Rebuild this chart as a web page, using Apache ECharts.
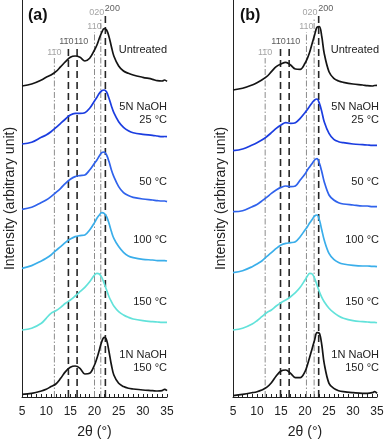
<!DOCTYPE html>
<html>
<head>
<meta charset="utf-8"/>
<title>XRD</title>
<script src="https://cdn.jsdelivr.net/npm/echarts@6/dist/echarts.min.js"></script>
<style>
    html, body { margin: 0; padding: 0; background: #fff; }
    #main { width: 388px; height: 439px; }
</style>
</head>
<body>
<div id="main"></div>
<script>
    // 2θ sample points (degrees)
    var xs = [5, 7, 9, 10, 11, 12, 13, 14, 15, 16, 17, 18, 19, 20, 20.5, 21, 21.5, 22, 22.5, 23, 23.5, 24, 25, 26, 27, 28, 30, 32, 33, 34, 34.5, 35];

    var sampleNames = ['Untreated', '5N NaOH\n25 °C', '50 °C', '100 °C', '150 °C', '1N NaOH\n150 °C'];

    // panel (a) – intensity above each curve's own baseline
    var a1 = [0, 2, 6, 8.7, 11, 14.3, 19.3, 24.3, 28.7, 30, 28.7, 25, 27.7, 36, 41, 47.7, 53.7, 57.3, 56, 49.3, 39.3, 30, 20, 15, 12.7, 11, 8.7, 6.7, 5.3, 5, 6, 4.7];
    var a2 = [0, 1.7, 6.7, 9, 12.3, 16.3, 20.7, 25, 29, 30.7, 30.7, 31.3, 35.7, 43, 46.7, 50.7, 53.3, 54, 52, 45.7, 38, 31.3, 22.3, 16.7, 13.3, 11.3, 9.7, 8.7, 8, 7.3, 7.5, 7.3];
    var a3 = [0, 2, 6.7, 9.3, 12.7, 16.7, 21, 26, 30, 32.7, 33.7, 34.3, 39.3, 46, 49.3, 53.3, 56.7, 57.3, 54.3, 47.7, 39.3, 32.7, 22.7, 16.7, 13.7, 12, 10.3, 9.3, 8.7, 8.3, 8.3, 7.7];
    var a4 = [0, 2.7, 7.3, 10, 13.3, 17.7, 21.7, 26, 29.3, 31.7, 32.7, 33.3, 38.3, 45.7, 50, 53.3, 55.7, 55, 51.7, 45, 36.7, 30, 21.7, 16, 12.3, 10.7, 9, 8.3, 7.7, 7.7, 7.7, 7.3];
    var a5 = [0, 1.7, 6.7, 11.7, 16.7, 19.3, 22.7, 26.7, 30, 34, 38.3, 42.7, 48.3, 55, 56.7, 56, 52.7, 46.7, 40, 33.3, 28.3, 24, 18.3, 15, 12.7, 11, 9.3, 8.3, 8, 7.7, 7.7, 7.7];
    var a6 = [0, 1, 3.3, 5, 7.7, 10.3, 16, 22.7, 27, 28.3, 26, 20.3, 21, 29.3, 36, 44.3, 52.7, 57, 54.3, 42.7, 29.3, 19.3, 11, 7.7, 6, 5.3, 4.3, 3.7, 3.3, 3.7, 5, 3.7];
    var offsetsA = [311, 253, 187.7, 128.7, 67, 2.7];

    // panel (b)
    var b1 = [0, 1.7, 5, 7.3, 10, 13.3, 18.3, 23.3, 26, 27.7, 25, 21, 20.7, 26.7, 31.7, 38.3, 46.7, 55, 62.7, 63.3, 53.3, 36.7, 18.3, 11.7, 9, 7.7, 6, 5, 4.3, 4, 4.5, 4.7];
    var b2 = [0, 1.7, 5.7, 8, 10.7, 14, 18, 22.3, 25.7, 28, 27.3, 28, 32.3, 38, 41.3, 44.7, 48, 50.7, 51.7, 47.3, 39, 29, 17.3, 11.3, 9, 8, 6.7, 6, 5.7, 5.3, 5.3, 5.3];
    var b3 = [0, 1, 5, 7.3, 10.7, 14.3, 18.3, 21.7, 24.3, 25.7, 25, 25.7, 31.7, 37.7, 41.7, 45, 48.3, 51.7, 53, 48.3, 40, 30, 16.7, 11.7, 9, 7.7, 6.7, 5.7, 5.7, 5, 5, 5];
    var b4 = [0, 2, 6, 8.7, 11.7, 16, 20, 24.3, 27.7, 29.3, 30, 31, 36, 42.7, 46, 50, 53.3, 56.7, 57.7, 52.7, 42.7, 32.7, 19.3, 13.3, 10.3, 8.7, 7.3, 6.7, 6.7, 6.3, 6.3, 6];
    var b5 = [0, 1.7, 6, 9.3, 13.3, 17.3, 20, 24, 27.3, 30, 33.3, 37.3, 42.7, 50, 54, 56.7, 56, 51.7, 45, 38.3, 32.7, 28.3, 21.7, 17.3, 14, 11.7, 9.3, 8.3, 8, 7.7, 7.7, 7.3];
    var b6 = [0, 1.3, 3, 4, 5.7, 8.3, 13, 19.7, 24.7, 25.7, 22.3, 18, 18, 24, 30.7, 39, 47.3, 55.7, 63, 62.3, 50.7, 32.3, 12.3, 7.3, 5, 4, 3, 2.3, 2.3, 3, 4, 2.3];
    var offsetsB = [307, 246.3, 185.3, 124.3, 67, 1.3];

    // reflection lines: cellulose II (grey dash-dot) and cellulose I (black dashed)
    var refNames = ['110', '110', '110', '110', '020', '200'];
    var refBar = [true, true, false, false, false, false]; // 1-10: bar over middle digit
    var refCellulose = ['II', 'I', 'I', 'II', 'II', 'I'];
    var refPosA = [11.7, 14.6, 16.4, 20.0, 21.3, 22.25];
    var refPosB = [11.7, 14.9, 16.7, 20.3, 21.9, 22.85];
    var refTop = [339, 350, 350, 365, 379, 383];

    var curveColors = ['#141414', '#1b3de0', '#2f62ec', '#3aaeea', '#62e2da', '#141414'];
    var refLabelDx = [0, -2, 4, 0, -4, 7];
    var sampleLabelY = [50, 113, 182, 240, 302, 361];
    var font = 'Liberation Sans, Arial, Helvetica, sans-serif';

    var chart = echarts.init(document.getElementById('main'), null, {renderer: 'canvas'});

    function refLabel(text, dx, dy, col) {
        return {
            show: true, position: 'top', distance: 0,
            offset: [dx, dy],
            formatter: text,
            fontFamily: font, fontSize: 9, lineHeight: 10,
            color: col
        };
    }

    function buildPanel(idx, curves, offsets, refPos) {
        var out = [];
        refPos.forEach(function (x, i) {
            var grey = refCellulose[i] === 'II';
            var col = grey ? '#8c8c8c' : '#333';
            out.push({
                type: 'line',
                xAxisIndex: idx, yAxisIndex: idx,
                data: [[x, 0], [x, refTop[i]]],
                symbol: 'none', silent: true, z: 1,
                lineStyle: grey
                    ? {color: '#8c8c8c', width: 1, type: [6, 2, 1.5, 2]}
                    : {color: '#262626', width: 1.6, type: [7, 4]}
            });
            out.push({
                type: 'scatter',
                xAxisIndex: idx, yAxisIndex: idx,
                data: [[x, refTop[i]]],
                symbolSize: 1, silent: true,
                itemStyle: {color: 'rgba(0,0,0,0)'},
                label: refLabel(refNames[i], refLabelDx[i], 0, col)
            });
            if (refBar[i]) {
                out.push({
                    type: 'scatter',
                    xAxisIndex: idx, yAxisIndex: idx,
                    data: [[x, refTop[i]]],
                    symbolSize: 1, silent: true,
                    itemStyle: {color: 'rgba(0,0,0,0)'},
                    label: refLabel('¯', refLabelDx[i], 1, col)
                });
            }
        });
        curves.forEach(function (vals, c) {
            out.push({
                type: 'line',
                xAxisIndex: idx, yAxisIndex: idx,
                data: xs.map(function (x, i) { return [x, offsets[c] + vals[i]]; }),
                symbol: 'none', smooth: 0.35, z: 3,
                lineStyle: {color: curveColors[c], width: 1.7}
            });
        });
        return out;
    }

    function xAxisCfg(idx) {
        return {
            type: 'value', gridIndex: idx, min: 5, max: 35, interval: 5,
            name: '2θ (°)', nameLocation: 'middle', nameGap: 28,
            nameTextStyle: {fontFamily: font, fontSize: 14, color: '#222'},
            axisLine: {lineStyle: {color: '#222', width: 1}},
            axisTick: {inside: true, length: 3, lineStyle: {color: '#222'}},
            minorTick: {show: true, splitNumber: 5, length: 3, lineStyle: {color: '#222'}},
            axisLabel: {fontFamily: font, fontSize: 12, color: '#222', margin: 9},
            splitLine: {show: false}
        };
    }

    function yAxisCfg(idx) {
        return {
            type: 'value', gridIndex: idx, min: 0, max: 397,
            name: 'Intensity (arbitrary unit)', nameLocation: 'middle', nameGap: 5,
            nameTextStyle: {fontFamily: font, fontSize: 14, color: '#222'},
            axisLine: {show: true, lineStyle: {color: '#222', width: 1}},
            axisTick: {show: false},
            axisLabel: {show: false},
            splitLine: {show: false}
        };
    }

    var graphics = [];
    [[167, 0], [379, 1]].forEach(function (p) {
        sampleNames.forEach(function (name, i) {
            graphics.push({
                type: 'text', x: p[0], y: sampleLabelY[i],
                style: {
                    text: name, font: '11px ' + font, fill: '#222',
                    align: 'right', verticalAlign: 'middle', lineHeight: 13,
                    textAlign: 'right', textVerticalAlign: 'middle'
                }
            });
        });
    });

    var option = {
        animation: false,
        title: [
            {text: '(a)', left: 28, top: 8, padding: 0, textStyle: {fontFamily: font, fontSize: 16, fontWeight: 'bold', color: '#111'}},
            {text: '(b)', left: 240, top: 8, padding: 0, textStyle: {fontFamily: font, fontSize: 16, fontWeight: 'bold', color: '#111'}}
        ],
        grid: [
            {left: 22, right: 221, top: 0, bottom: 42, outerBoundsMode: 'none'},
            {left: 233, right: 11, top: 0, bottom: 42, outerBoundsMode: 'none'}
        ],
        xAxis: [xAxisCfg(0), xAxisCfg(1)],
        yAxis: [yAxisCfg(0), yAxisCfg(1)],
        graphic: graphics,
        series: buildPanel(0, [a1, a2, a3, a4, a5, a6], offsetsA, refPosA)
            .concat(buildPanel(1, [b1, b2, b3, b4, b5, b6], offsetsB, refPosB))
    };
    chart.setOption(option);
</script>
</body>
</html>
